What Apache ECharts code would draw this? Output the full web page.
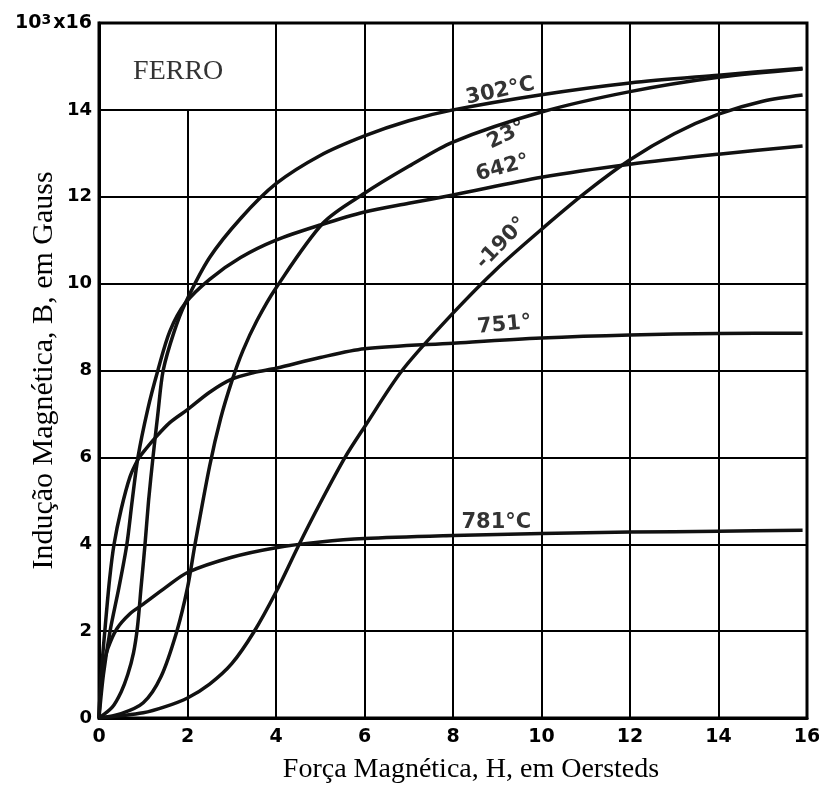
<!DOCTYPE html>
<html><head><meta charset="utf-8">
<script src="https://cdn.jsdelivr.net/npm/echarts@6/dist/echarts.min.js"></script>
<style>html,body{margin:0;padding:0;background:#fff}#c{width:819px;height:792px}</style>
</head><body><div id="c"></div>
<script>
// Axis ticks
const xTicks = [0, 2, 4, 6, 8, 10, 12, 14, 16];
const yTicks = [0, 2, 4, 6, 8, 10, 12, 14, 16];

// Curves: H (Oersteds) and B (10^3 Gauss)
const h302 = [0, 0.3, 0.5, 0.65, 0.78, 0.87, 0.95, 1.04, 1.12, 1.22, 1.33, 1.45, 1.7, 1.95, 2.5, 3.2, 4, 5, 6, 7, 8, 10, 12, 14, 15.9];
const b302 = [0, 0.25, 0.6, 1.0, 1.5, 2.1, 3, 4, 5, 6, 7, 8, 8.9, 9.55, 10.6, 11.5, 12.3, 12.95, 13.4, 13.75, 14.0, 14.35, 14.62, 14.8, 14.96];

const h23 = [0, 0.5, 1, 1.4, 1.76, 2, 2.17, 2.5, 2.75, 3.0, 3.25, 3.57, 4, 5.07, 6, 7, 8, 10, 12, 14, 15.9];
const b23 = [0, 0.1, 0.35, 0.95, 2.0, 3.0, 4, 5.8, 6.9, 7.75, 8.45, 9.15, 9.9, 11.4, 12.08, 12.7, 13.26, 13.95, 14.42, 14.75, 14.94];

const h642 = [0, 0.1, 0.25, 0.45, 0.63, 0.75, 0.88, 1.1, 1.33, 1.6, 1.95, 2.5, 3.2, 4, 5, 6, 7, 8, 10, 12, 14, 15.9];
const b642 = [0, 1.0, 2, 3, 4, 5, 6, 7.1, 8, 8.9, 9.55, 10.1, 10.6, 11.0, 11.35, 11.65, 11.85, 12.04, 12.45, 12.75, 12.98, 13.17];

const hm190 = [0, 1, 1.5, 2, 2.5, 3, 3.5, 4, 4.5, 5, 5.56, 6, 6.85, 8, 9, 10, 11, 12, 13, 14, 15, 15.9];
const bm190 = [0, 0.12, 0.26, 0.46, 0.78, 1.25, 1.98, 2.9, 3.95, 4.95, 6.0, 6.7, 8.0, 9.32, 10.35, 11.25, 12.1, 12.85, 13.45, 13.9, 14.2, 14.34];

const h751 = [0, 0.05, 0.14, 0.24, 0.34, 0.5, 0.7, 0.88, 1.0, 1.27, 1.6, 2, 2.5, 3, 3.5, 4, 5, 6, 8, 10, 12, 14, 15.9];
const b751 = [0, 1.0, 2.1, 3.2, 4.0, 4.8, 5.55, 5.95, 6.12, 6.45, 6.8, 7.1, 7.5, 7.8, 7.95, 8.05, 8.3, 8.5, 8.63, 8.75, 8.82, 8.85, 8.86];

const h781 = [0, 0.03, 0.1, 0.2, 0.4, 0.7, 1, 1.5, 2, 3, 4, 5, 6, 8, 10, 12, 14, 15.9];
const b781 = [0, 0.6, 1.2, 1.6, 2.05, 2.4, 2.62, 3.0, 3.35, 3.7, 3.92, 4.05, 4.13, 4.2, 4.25, 4.28, 4.3, 4.32];

const curveNames = ['302°C', '23°', '642°', '-190°', '751°', '781°C'];
const curveH = [h302, h23, h642, hm190, h751, h781];
const curveB = [b302, b23, b642, bm190, b751, b781];

// Texts
const title = 'FERRO';
const xName = 'Força Magnética, H, em Oersteds';
const yName = 'Indução Magnética, B, em Gauss';

// Annotation anchors (data coordinates) and rotations
const annot = [
  {t: '302°C', h: 9.07, b: 14.43, r: 12},
  {t: '23°', h: 9.21, b: 13.42, r: 26},
  {t: '642°', h: 9.12, b: 12.66, r: 15},
  {t: '-190°', h: 9.1, b: 10.93, r: 46},
  {t: '751°', h: 9.16, b: 9.05, r: 5},
  {t: '781°C', h: 8.98, b: 4.51, r: 0}
];

const series = curveNames.map((n, i) => ({
  name: n, type: 'line', showSymbol: false, symbol: 'none',
  smooth: 0.3,
  data: curveH[i].map((h, k) => [h, curveB[i][k]]),
  lineStyle: {color: '#111', width: 3.5}, z: 5, silent: true
}));

// vertical grid lines (x = 2 line stops at 14 for the title box)
const vLines = xTicks.filter(v => v > 0 && v < 16).map(v => [
  {coord: [v, 0]}, {coord: [v, v === 2 ? 14 : 16]}
]);
series.push({
  type: 'line', data: [], silent: true,
  markLine: {silent: true, symbol: ['none', 'none'], animation: false,
    label: {show: false}, lineStyle: {color: '#000', width: 2, type: 'solid'},
    data: vLines}
});

series.push({
  type: 'scatter', symbolSize: 0, silent: true, z: 10,
  data: annot.map(a => ({value: [a.h, a.b], label: {show: true, formatter: a.t, rotate: a.r}})),
  label: {show: true, position: 'inside', color: '#000', fontFamily: 'DejaVu Sans', fontWeight: 'bold', fontSize: 21}
});
series.push({
  type: 'scatter', symbolSize: 0, silent: true, z: 10,
  data: [{value: [1.79, 14.87]}],
  label: {show: true, position: 'inside', formatter: title, color: '#000', fontFamily: 'Liberation Serif', fontSize: 28}
});

const chart = echarts.init(document.getElementById('c'), null, {renderer: 'canvas'});
chart.setOption({
  animation: false,
  backgroundColor: '#fff',
  grid: {left: 99, right: 12, top: 23, bottom: 74, containLabel: false, outerBoundsMode: 'none',
    show: true, borderColor: '#000', borderWidth: 3, backgroundColor: 'transparent'},
  xAxis: {
    type: 'value', min: xTicks[0], max: xTicks[xTicks.length - 1], interval: 2,
    name: xName, nameLocation: 'middle', nameGap: 38, nameMoveOverlap: false,
    nameTextStyle: {fontFamily: 'Liberation Serif', fontSize: 28, color: '#000', padding: [0, 0, 0, 36]},
    axisLine: {show: true, lineStyle: {color: '#000', width: 3}},
    axisTick: {show: false},
    splitLine: {show: false},
    axisLabel: {margin: 10, color: '#000', fontFamily: 'DejaVu Sans', fontWeight: 'bold', fontSize: 19}
  },
  yAxis: {
    type: 'value', min: yTicks[0], max: yTicks[yTicks.length - 1], interval: 2,
    name: yName, nameLocation: 'middle', nameGap: 40, nameMoveOverlap: false,
    nameTextStyle: {fontFamily: 'Liberation Serif', fontSize: 30, color: '#000'},
    axisLine: {show: true, lineStyle: {color: '#000', width: 3}},
    axisTick: {show: false},
    splitLine: {show: true, lineStyle: {color: '#000', width: 2}},
    axisLabel: {margin: 7, color: '#000', fontFamily: 'DejaVu Sans', fontWeight: 'bold', fontSize: 18,
      formatter: v => v === 16 ? '{n|10}{s|3}{n|x16}' : String(v),
      rich: {
        n: {fontFamily: 'DejaVu Sans', fontWeight: 'bold', fontSize: 19, color: '#000'},
        s: {fontFamily: 'DejaVu Sans', fontWeight: 'bold', fontSize: 14, color: '#000', verticalAlign: 'top', padding: [0, 2, 6, 0]}
      }}
  },
  series: series
});
</script></body></html>
